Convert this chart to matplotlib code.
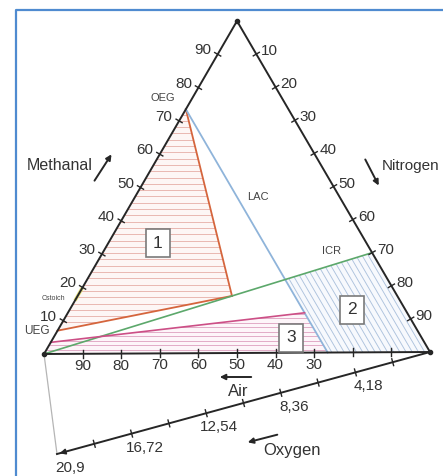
import numpy as np
import matplotlib
matplotlib.use("Agg")
import matplotlib.pyplot as plt
from matplotlib.patches import Polygon

plt.rcParams['font.family'] = ['Liberation Sans', 'DejaVu Sans']

# ternary data: (methanal %, nitrogen %), air = rest
edge_ticks = [10, 20, 30, 40, 50, 60, 70, 80, 90]
left_labels = ['10', '20', '30', '40', '50', '60', '70', '80', '90']
right_labels = ['10', '20', '30', '40', '50', '60', '70', '80', '90']
air_ticks = [90, 80, 70, 60, 50, 40, 30, 20, 10]
air_labels = ['90', '80', '70', '60', '50', '40', '30', '', '']
oxy_ticks = [10, 20, 30, 40, 50, 60, 70, 80, 90]
oxy_labels = {20: '4,18', 40: '8,36', 60: '12,54', 80: '16,72', 100: '20,9'}

oeg = (73.5, 0)
ueg = (7, 0)
cstoich = (18, 0)
apex = (17.2, 40.1)
icr_end = (30, 70)
lac_bottom = (0, 73.5)
lac_icr = (22, 51.5)
mag_start = (3.5, 0)
mag_end = (12, 61.5)

region1 = [ueg, oeg, apex]
region2 = [lac_icr, icr_end, (0, 100), lac_bottom]
region3 = [mag_start, mag_end, lac_bottom, (0, 0)]

# triangle corners in pixel space
L = np.array([44.0, 354.0])
R = np.array([430.0, 352.0])
T = np.array([237.0, 21.0])
E = np.array([57.0, 454.0])  # oxygen axis end


def tp(m, n):
    return L + n / 100 * (R - L) + m / 100 * (T - L)


def perp(a, b):
    d = (b - a) / np.linalg.norm(b - a)
    return np.array([-d[1], d[0]])


fig = plt.figure(figsize=(4.43, 4.76), dpi=100)
ax = fig.add_axes([0, 0, 1, 1])
ax.set_xlim(0, 443)
ax.set_ylim(476, 0)
ax.axis('off')

# frame
ax.plot([16, 16, 450], [490, 10, 10], color='#4f8bd0', lw=1.6)

# hatched regions
def hatch(region, color, lines, fill):
    poly = Polygon([tp(*p) for p in region], closed=True, fc=fill, ec='none')
    ax.add_patch(poly)
    for (x0, y0, x1, y1) in lines:
        ln, = ax.plot([x0, x1], [y0, y1], color=color, lw=0.65)
        ln.set_clip_path(poly)

hatch(region1, '#e7b3ad', [(0, y, 443, y) for y in np.arange(20, 360, 6.3)], '#fdf6f5')
hatch(region3, '#e0a6c3', [(0, y, 443, y) for y in np.arange(300, 360, 4.5)], '#fdf5f9')
k = (R - T)[0] / (R - T)[1]
hatch(region2, '#adc2dd', [(x, 200, x + k * 200, 400) for x in np.arange(150, 500, 6.2)], '#f7f9fd')

def seg(a, b, **kw):
    p, q = tp(*a), tp(*b)
    ax.plot([p[0], q[0]], [p[1], q[1]], **kw)

seg(oeg, apex, color='#d5653d', lw=1.3)
seg(ueg, apex, color='#d5653d', lw=1.3)
seg(oeg, lac_bottom, color='#8fb4da', lw=1.3)
seg((0, 0), icr_end, color='#5ca86b', lw=1.2)
seg(mag_start, mag_end, color='#cc4f86', lw=1.2)
seg((16.5, 0), (19.5, 0), color='#e6e27a', lw=2.5)

# triangle
tri = np.array([L, R, T, L])
ax.plot(tri[:, 0], tri[:, 1], color='#262626', lw=1.4)
ax.plot([L[0], E[0]], [L[1], E[1]], color='#b5b5b5', lw=0.9)
ax.plot([R[0], E[0]], [R[1], E[1]], color='#262626', lw=1.4)
ax.annotate('', xy=E, xytext=E + (R - E) * 0.03,
            arrowprops=dict(arrowstyle='-|>', color='#262626', lw=1.2, mutation_scale=8))
for c in (L, R, T):
    ax.plot(c[0], c[1], 'o', ms=3, color='#262626')

tick_len = 3.5
tc = '#333333'
fs = 11

pl = perp(L, T)
for v, lab in zip(edge_ticks, left_labels):
    p = tp(v, 0)
    ax.plot([p[0] - tick_len * pl[0], p[0] + tick_len * pl[0]],
            [p[1] - tick_len * pl[1], p[1] + tick_len * pl[1]], color='#262626', lw=1)
    ax.text(p[0] - 15, p[1] - 4, lab, ha='center', va='center', fontsize=fs, color=tc)

pr = perp(T, R)
for v, lab in zip(edge_ticks, right_labels):
    p = tp(100 - v, v)
    ax.plot([p[0] - tick_len * pr[0], p[0] + tick_len * pr[0]],
            [p[1] - tick_len * pr[1], p[1] + tick_len * pr[1]], color='#262626', lw=1)
    ax.text(p[0] + 5, p[1] - 3, lab, ha='left', va='center', fontsize=fs, color=tc)

for v, lab in zip(air_ticks, air_labels):
    p = tp(0, 100 - v)
    ax.plot([p[0], p[0]], [p[1] - 4, p[1] + 4], color='#262626', lw=1)
    ax.text(p[0], p[1] + 12, lab, ha='center', va='center', fontsize=fs, color=tc)

po = perp(E, R)
for v in oxy_ticks:
    p = R + v / 100 * (E - R)
    ax.plot([p[0] - tick_len * po[0], p[0] + tick_len * po[0]],
            [p[1] - tick_len * po[1], p[1] + tick_len * po[1]], color='#262626', lw=1)
for v, lab in oxy_labels.items():
    p = R + v / 100 * (E - R)
    ax.text(p[0] + 13, p[1] + 14, lab, ha='center', va='center', fontsize=fs, color=tc)

# small labels
sc = '#444444'
p = tp(*oeg)
ax.text(p[0] - 23, p[1] - 11, 'OEG', ha='center', va='center', fontsize=8, color=sc)
p = tp(*ueg)
ax.text(p[0] - 21, p[1], 'UEG', ha='center', va='center', fontsize=8.5, color=sc)
p = tp(*cstoich)
ax.text(p[0] - 25, p[1] + 4, 'Cstoich', ha='center', va='center', fontsize=5, color=sc)
ax.text(258, 197, 'LAC', ha='center', va='center', fontsize=8, color=sc)
ax.text(332, 251, 'ICR', ha='center', va='center', fontsize=8, color=sc)

box = dict(boxstyle='square,pad=0.4', fc='white', ec='#7a7a7a', lw=1.2)
ax.text(158, 243, '1', ha='center', va='center', fontsize=12.5, color='#333333', bbox=box)
ax.text(352, 310, '2', ha='center', va='center', fontsize=12.5, color='#333333', bbox=box)
ax.text(291, 338, '3', ha='center', va='center', fontsize=12.5, color='#333333', bbox=box)

# axis names with arrows
ac = '#262626'
arr = dict(arrowstyle='-|>', color=ac, lw=1.4, mutation_scale=8)
ax.text(60, 165, 'Methanal', ha='center', va='center', fontsize=11.5, color=tc)
ax.annotate('', xy=(113, 152), xytext=(93, 183), arrowprops=arr)
ax.text(382, 166, 'Nitrogen', ha='left', va='center', fontsize=11, color=tc)
ax.annotate('', xy=(380, 188), xytext=(364, 157), arrowprops=arr)
ax.text(238, 391, 'Air', ha='center', va='center', fontsize=12, color=tc)
ax.annotate('', xy=(217, 377), xytext=(254, 377), arrowprops=arr)
ax.text(292, 451, 'Oxygen', ha='center', va='center', fontsize=12, color=tc)
ax.annotate('', xy=(245, 443), xytext=(280, 434), arrowprops=arr)

fig.savefig('out.png', dpi=100)
